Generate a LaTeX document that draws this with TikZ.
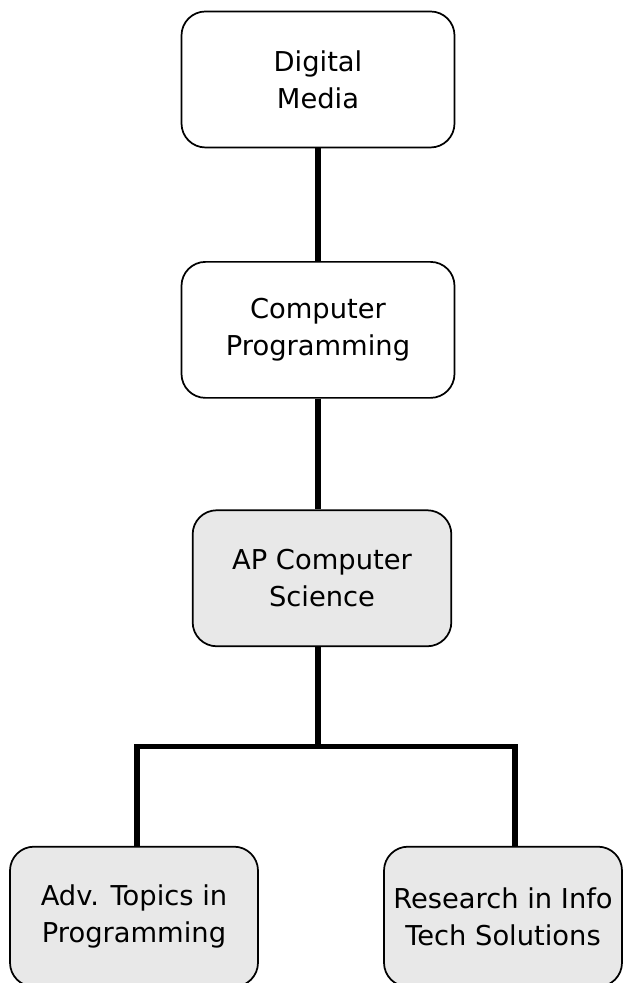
\documentclass[tikz,border=0pt]{standalone}
\usepackage{fontspec}
\setmainfont{DejaVu Sans}
\usetikzlibrary{positioning}

\begin{document}
\begin{tikzpicture}[-,node distance=84pt,
  course/.style={draw,line width=1.3pt,rounded corners=18pt,align=center,
    font=\fontsize{20.5}{27.7}\selectfont,minimum width=204.75pt,minimum height=102pt},
  core/.style={course,fill=black!9},
  link/.style={line width=4pt}]

\useasboundingbox (0,0) rectangle (468.75pt,-737.25pt);

\node[course] (DM) at (238.5pt,-59.6pt) {Digital\\Media};
\node[course] (CP) [below=84.5pt of DM] {Computer\\Programming};
\node[core, minimum width=194pt] (AP) [below=83pt of CP, xshift=3pt] {AP Computer\\Science};

\node[core, minimum width=186pt, minimum height=105pt] (ATP) [below=149pt of AP, xshift=-141pt] {Adv. Topics in\\Programming};
\node[core, minimum width=178.5pt, minimum height=105pt, inner xsep=2pt] (RIT) [below=149pt of AP, xshift=135.75pt] {Research in Info\\Tech Solutions};

\coordinate[below=74.5pt of AP.south, xshift=-3pt] (split);
\coordinate[xshift=2.25pt] (lft) at (split -| ATP.north);
\coordinate[xshift=9pt] (rgt) at (split -| RIT.north);

\draw[link] (DM.south) -- (CP.north);
\draw[link] (CP.south) -- (CP.south |- AP.north);
\draw[link] (AP.south -| split) -- (split);
\draw[link] (lft |- ATP.north) -- (lft) -- (rgt) -- (rgt |- RIT.north);

\end{tikzpicture}
\end{document}
